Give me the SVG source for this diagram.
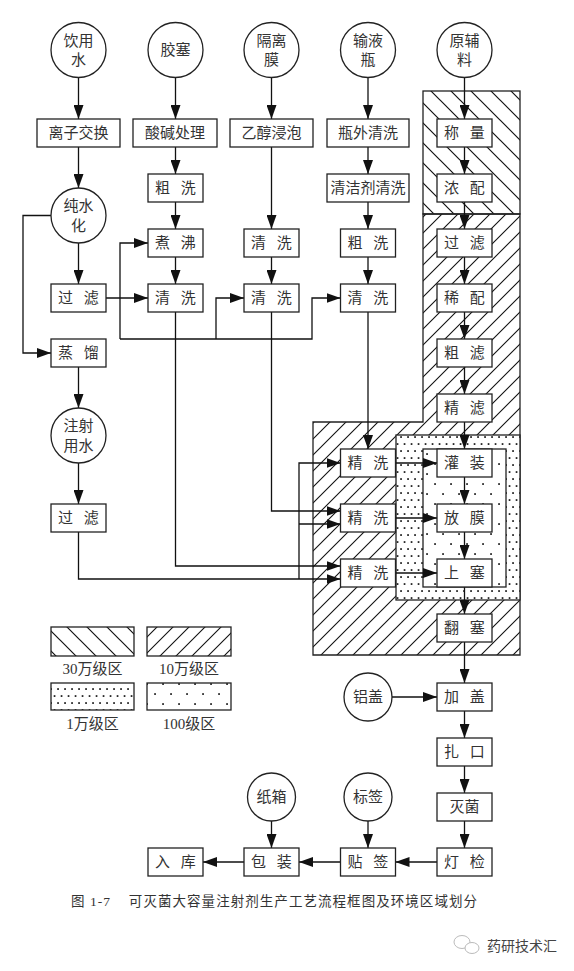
<svg xmlns="http://www.w3.org/2000/svg" width="574" height="971" viewBox="0 0 574 971">
<defs>
<marker id="ah" markerUnits="userSpaceOnUse" markerWidth="14" markerHeight="10" refX="14" refY="5" orient="auto"><path d="M0,0 L14,5 L0,10 z" fill="#111"/></marker>
<pattern id="h30" patternUnits="userSpaceOnUse" width="20" height="20"><path d="M0,0 L20,20 M-2,18 L2,22 M18,-2 L22,2" stroke="#111" stroke-width="1.2"/></pattern>
<pattern id="h10" patternUnits="userSpaceOnUse" width="16" height="16"><path d="M0,16 L16,0 M-2,2 L2,-2 M14,18 L18,14" stroke="#111" stroke-width="1.1"/></pattern>
<pattern id="d1" patternUnits="userSpaceOnUse" width="7" height="14"><rect x="1.2" y="2.2" width="1.7" height="1.7" fill="#111"/><rect x="4.7" y="9.2" width="1.7" height="1.7" fill="#111"/></pattern>
<pattern id="d100" patternUnits="userSpaceOnUse" width="16" height="20"><rect x="2.2" y="3.2" width="1.7" height="1.7" fill="#111"/><rect x="10.2" y="13.2" width="1.7" height="1.7" fill="#111"/></pattern>
</defs>
<style>
.b{fill:#fff;stroke:#222;stroke-width:1.3}
.z{stroke:#222;stroke-width:1.3}
.t{font-family:"Liberation Serif","Noto Sans CJK SC",serif;font-size:15px;fill:#333;text-anchor:middle;dominant-baseline:central;word-spacing:7px}
.c{fill:none;stroke:#111;stroke-width:1.3}
.a{marker-end:url(#ah)}
.lg{font-family:"Liberation Serif","Noto Sans CJK SC",serif;font-size:15px;fill:#333;text-anchor:middle}
</style>
<rect width="574" height="971" fill="#fff"/>
<g id="zones">
<rect x="423" y="91" width="97" height="123" fill="url(#h30)" class="z"/>
<path d="M423,214 L520,214 L520,655 L313,655 L313,422 L423,422 Z" fill="url(#h10)" class="z"/>
<rect x="396" y="435" width="124" height="165" fill="#fff"/>
<rect x="396" y="435" width="124" height="165" fill="url(#d1)" class="z"/>
<rect x="423" y="449" width="83" height="138" fill="#fff"/>
<rect x="423" y="449" width="83" height="138" fill="url(#d100)" class="z"/>
</g>
<g id="connectors" class="c">
<path class="a" d="M78.5,77.5 L78.5,119"/>
<path class="a" d="M78.5,147 L78.5,188"/>
<path class="a" d="M78.5,243 L78.5,284"/>
<path class="a" d="M51,215.5 L23,215.5 L23,353 L51,353"/>
<path class="a" d="M78.5,367 L78.5,408"/>
<path class="a" d="M78.5,463 L78.5,504"/>
<path class="a" d="M78.5,532 L78.5,579 L340.5,579"/>
<path class="a" d="M299,579 L299,463 L340.5,463"/>
<path class="a" d="M299,524 L340.5,524"/>
<path class="a" d="M175.5,77.5 L175.5,119"/>
<path class="a" d="M175.5,147 L175.5,174"/>
<path class="a" d="M175.5,202 L175.5,229"/>
<path class="a" d="M175.5,257 L175.5,284"/>
<path class="a" d="M175.5,312 L175.5,566 L340.5,566"/>
<path class="a" d="M106,298 L148,298"/>
<path class="a" d="M120,339 L120,243 L148,243"/>
<path class="a" d="M120,339 L312,339 L312,298 L340.5,298"/>
<path class="a" d="M216,339 L216,298 L244,298"/>
<path class="a" d="M271.5,77.5 L271.5,119"/>
<path class="a" d="M271.5,147 L271.5,229"/>
<path class="a" d="M271.5,257 L271.5,284"/>
<path class="a" d="M271.5,312 L271.5,511 L340.5,511"/>
<path class="a" d="M368,77.5 L368,119"/>
<path class="a" d="M368,147 L368,174"/>
<path class="a" d="M368,202 L368,229"/>
<path class="a" d="M368,257 L368,284"/>
<path class="a" d="M368,312 L368,449"/>
<path class="a" d="M395.5,463 L437,463"/>
<path class="a" d="M395.5,518 L437,518"/>
<path class="a" d="M395.5,573 L437,573"/>
<path class="a" d="M464.5,77.5 L464.5,119"/>
<path class="a" d="M464.5,147 L464.5,174"/>
<path class="a" d="M464.5,202 L464.5,229"/>
<path class="a" d="M464.5,257 L464.5,284"/>
<path class="a" d="M464.5,312 L464.5,339"/>
<path class="a" d="M464.5,367 L464.5,394"/>
<path class="a" d="M464.5,422 L464.5,449"/>
<path class="a" d="M464.5,477 L464.5,504"/>
<path class="a" d="M464.5,532 L464.5,559"/>
<path class="a" d="M464.5,587 L464.5,614"/>
<path class="a" d="M464.5,642 L464.5,683"/>
<path class="a" d="M392,697 L437,697"/>
<path class="a" d="M464.5,711 L464.5,738"/>
<path class="a" d="M464.5,766 L464.5,793"/>
<path class="a" d="M464.5,821 L464.5,848"/>
<path class="a" d="M368,821 L368,848"/>
<path class="a" d="M271.5,821 L271.5,848"/>
<path class="a" d="M437,862 L395.5,862"/>
<path class="a" d="M340.5,862 L299,862"/>
<path class="a" d="M244,862 L203,862"/>
</g>
<g id="n-yinyongshui"><circle class="b" cx="78.5" cy="50" r="27.5"/><text class="t" x="78.5" y="40.5">饮用</text><text class="t" x="78.5" y="60">水</text></g>
<g id="n-jiaosai"><circle class="b" cx="175.5" cy="50" r="27.5"/><text class="t" x="175.5" y="50">胶塞</text></g>
<g id="n-gelimo"><circle class="b" cx="271.5" cy="50" r="27.5"/><text class="t" x="271.5" y="40.5">隔离</text><text class="t" x="271.5" y="60">膜</text></g>
<g id="n-shuyeping"><circle class="b" cx="368" cy="50" r="27.5"/><text class="t" x="368" y="40.5">输液</text><text class="t" x="368" y="60">瓶</text></g>
<g id="n-yuanfuliao"><circle class="b" cx="464.5" cy="50" r="27.5"/><text class="t" x="464.5" y="40.5">原辅</text><text class="t" x="464.5" y="60">料</text></g>
<g id="n-lizi"><rect class="b" x="37" y="119" width="83" height="28"/><text class="t" x="78.5" y="133">离子交换</text></g>
<g id="n-suanjian"><rect class="b" x="133" y="119" width="84" height="28"/><text class="t" x="175" y="133">酸碱处理</text></g>
<g id="n-yichun"><rect class="b" x="230" y="119" width="83" height="28"/><text class="t" x="271.5" y="133">乙醇浸泡</text></g>
<g id="n-pingwai"><rect class="b" x="327" y="119" width="82" height="28"/><text class="t" x="368" y="133">瓶外清洗</text></g>
<g id="n-chengliang"><rect class="b" x="437" y="119" width="55" height="28"/><text class="t" x="464.5" y="133">称 量</text></g>
<g id="n-chunshui"><circle class="b" cx="78.5" cy="215.5" r="27.5"/><text class="t" x="78.5" y="206">纯水</text><text class="t" x="78.5" y="225.5">化</text></g>
<g id="n-cuxi1"><rect class="b" x="148" y="174" width="55" height="28"/><text class="t" x="175.5" y="188">粗 洗</text></g>
<g id="n-qingjieji"><rect class="b" x="327" y="174" width="82" height="28"/><text class="t" x="368" y="188">清洁剂清洗</text></g>
<g id="n-nongpei"><rect class="b" x="437" y="174" width="55" height="28"/><text class="t" x="464.5" y="188">浓 配</text></g>
<g id="n-zhufei"><rect class="b" x="148" y="229" width="55" height="28"/><text class="t" x="175.5" y="243">煮 沸</text></g>
<g id="n-qingxi3a"><rect class="b" x="244" y="229" width="55" height="28"/><text class="t" x="271.5" y="243">清 洗</text></g>
<g id="n-cuxi4"><rect class="b" x="340.5" y="229" width="55" height="28"/><text class="t" x="368" y="243">粗 洗</text></g>
<g id="n-guolv5"><rect class="b" x="437" y="229" width="55" height="28"/><text class="t" x="464.5" y="243">过 滤</text></g>
<g id="n-guolv1"><rect class="b" x="51" y="284" width="55" height="28"/><text class="t" x="78.5" y="298">过 滤</text></g>
<g id="n-qingxi2"><rect class="b" x="148" y="284" width="55" height="28"/><text class="t" x="175.5" y="298">清 洗</text></g>
<g id="n-qingxi3b"><rect class="b" x="244" y="284" width="55" height="28"/><text class="t" x="271.5" y="298">清 洗</text></g>
<g id="n-qingxi4"><rect class="b" x="340.5" y="284" width="55" height="28"/><text class="t" x="368" y="298">清 洗</text></g>
<g id="n-xipei"><rect class="b" x="437" y="284" width="55" height="28"/><text class="t" x="464.5" y="298">稀 配</text></g>
<g id="n-zhengliu"><rect class="b" x="51" y="339" width="55" height="28"/><text class="t" x="78.5" y="353">蒸 馏</text></g>
<g id="n-culv"><rect class="b" x="437" y="339" width="55" height="28"/><text class="t" x="464.5" y="353">粗 滤</text></g>
<g id="n-jinglv"><rect class="b" x="437" y="394" width="55" height="28"/><text class="t" x="464.5" y="408">精 滤</text></g>
<g id="n-zhusheshui"><circle class="b" cx="78.5" cy="435.5" r="27.5"/><text class="t" x="78.5" y="426">注射</text><text class="t" x="78.5" y="445.5">用水</text></g>
<g id="n-jingxi1"><rect class="b" x="340.5" y="449" width="55" height="28"/><text class="t" x="368" y="463">精 洗</text></g>
<g id="n-guanzhuang"><rect class="b" x="437" y="449" width="55" height="28"/><text class="t" x="464.5" y="463">灌 装</text></g>
<g id="n-guolv1b"><rect class="b" x="51" y="504" width="55" height="28"/><text class="t" x="78.5" y="518">过 滤</text></g>
<g id="n-jingxi2"><rect class="b" x="340.5" y="504" width="55" height="28"/><text class="t" x="368" y="518">精 洗</text></g>
<g id="n-fangmo"><rect class="b" x="437" y="504" width="55" height="28"/><text class="t" x="464.5" y="518">放 膜</text></g>
<g id="n-jingxi3"><rect class="b" x="340.5" y="559" width="55" height="28"/><text class="t" x="368" y="573">精 洗</text></g>
<g id="n-shangsai"><rect class="b" x="437" y="559" width="55" height="28"/><text class="t" x="464.5" y="573">上 塞</text></g>
<g id="n-fansai"><rect class="b" x="437" y="614" width="55" height="28"/><text class="t" x="464.5" y="628">翻 塞</text></g>
<g id="n-lvgai"><circle class="b" cx="368" cy="697" r="24"/><text class="t" x="368" y="697">铝盖</text></g>
<g id="n-jiagai"><rect class="b" x="437" y="683" width="55" height="28"/><text class="t" x="464.5" y="697">加 盖</text></g>
<g id="n-zhakou"><rect class="b" x="437" y="738" width="55" height="28"/><text class="t" x="464.5" y="752">扎 口</text></g>
<g id="n-mieju"><rect class="b" x="437" y="793" width="55" height="28"/><text class="t" x="464.5" y="807">灭菌</text></g>
<g id="n-zhixiang"><circle class="b" cx="271.5" cy="797" r="24"/><text class="t" x="271.5" y="797">纸箱</text></g>
<g id="n-biaoqian"><circle class="b" cx="368" cy="797" r="24"/><text class="t" x="368" y="797">标签</text></g>
<g id="n-dengjian"><rect class="b" x="437" y="848" width="55" height="28"/><text class="t" x="464.5" y="862">灯 检</text></g>
<g id="n-tieqian"><rect class="b" x="340.5" y="848" width="55" height="28"/><text class="t" x="368" y="862">贴 签</text></g>
<g id="n-baozhuang"><rect class="b" x="244" y="848" width="55" height="28"/><text class="t" x="271.5" y="862">包 装</text></g>
<g id="n-ruku"><rect class="b" x="148" y="848" width="55" height="28"/><text class="t" x="175.5" y="862">入 库</text></g>
<g id="legend">
<rect x="51" y="627" width="83" height="29" fill="url(#h30)" class="z"/>
<rect x="147" y="627" width="84" height="29" fill="url(#h10)" class="z"/>
<rect x="51" y="683" width="83" height="27" fill="url(#d1)" class="z"/>
<rect x="147" y="683" width="84" height="27" fill="url(#d100)" class="z"/>
<text class="lg" x="92.5" y="674">30万级区</text>
<text class="lg" x="189" y="674">10万级区</text>
<text class="lg" x="92.5" y="729">1万级区</text>
<text class="lg" x="189" y="729">100级区</text>
</g>
<text x="71" y="906" font-family="Liberation Serif,Noto Sans CJK SC,serif" font-size="13.5" fill="#333" xml:space="preserve" textLength="406" lengthAdjust="spacing">图 1-7    可灭菌大容量注射剂生产工艺流程框图及环境区域划分</text>
<g id="watermark">
<ellipse cx="462" cy="942" rx="8" ry="6.5" fill="none" stroke="#bbb" stroke-width="1"/>
<ellipse cx="472" cy="948" rx="7" ry="5.5" fill="#fff" stroke="#bbb" stroke-width="1"/>
<text x="487" y="951" font-family="Noto Sans CJK SC,sans-serif" font-size="14" fill="#444">药研技术汇</text>
</g>
</svg>
